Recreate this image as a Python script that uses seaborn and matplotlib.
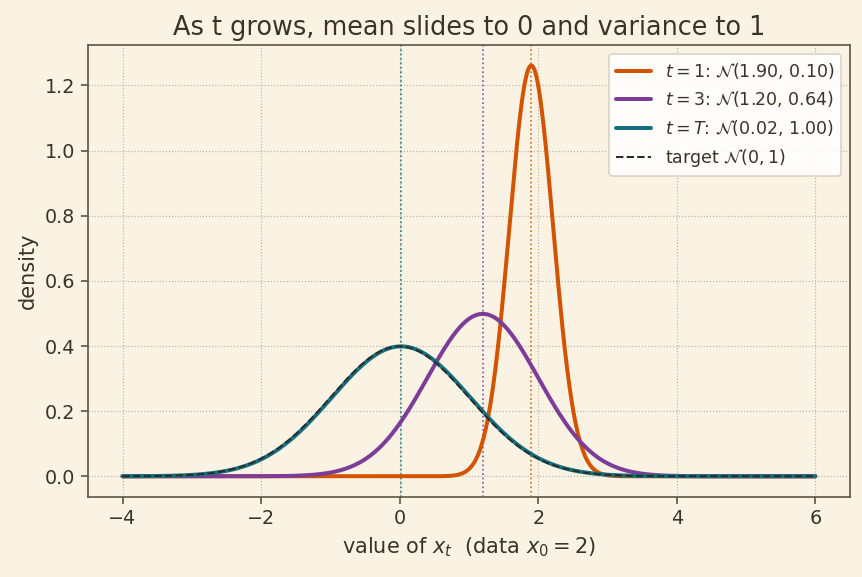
import matplotlib
matplotlib.use("Agg")
import matplotlib.pyplot as plt
import numpy as np
import pandas as pd
import seaborn as sns

###############################################################################
# Values: step labels, means and variances of q(x_t | x_0).

steps = ["1", "3", "T"]
means = [1.90, 1.20, 0.02]
variances = [0.10, 0.64, 1.00]
colors = ["#d35400", "#7d3c98", "#17707f"]
x_lo, x_hi = -4.0, 6.0

###############################################################################
# Density curves for each step plus the N(0, 1) target.

xs = np.linspace(x_lo, x_hi, 600)


def normal_pdf(x, mu, var):
    return np.exp(-(x - mu) ** 2 / (2 * var)) / np.sqrt(2 * np.pi * var)


df = pd.concat(
    [pd.DataFrame({"x": xs, "density": normal_pdf(xs, m, v),
                   "label": r"$t={}$: $\mathcal{{N}}$({:.2f}, {:.2f})".format(s, m, v)})
     for s, m, v in zip(steps, means, variances)],
    ignore_index=True)
target = pd.DataFrame({"x": xs, "density": normal_pdf(xs, 0.0, 1.0)})

###############################################################################
# Plot settings.

bg = "#faf3e3"
ink = "#3b3328"
sns.set_theme(style="ticks", rc={
    "figure.facecolor": bg, "axes.facecolor": bg, "savefig.facecolor": bg,
    "axes.edgecolor": "#5e5444", "axes.labelcolor": ink, "text.color": ink,
    "xtick.color": "#5e5444", "ytick.color": "#5e5444",
    "xtick.labelcolor": ink, "ytick.labelcolor": ink,
    "axes.linewidth": 1.0,
})
plt.rcParams["font.family"] = ["DejaVu Sans"]

fig, ax = plt.subplots(figsize=(862 / 120, 577 / 120), dpi=120)

for (lab, sub), c in zip(df.groupby("label", sort=False), colors):
    sns.lineplot(data=sub, x="x", y="density", ax=ax, color=c, linewidth=2.4,
                 label=lab)
sns.lineplot(data=target, x="x", y="density", ax=ax, color="#2b2b2b",
             linewidth=1.2, linestyle="--", label=r"target $\mathcal{N}(0,1)$")

for m, c in zip(means, colors):
    ax.axvline(m, color=c, linestyle=":", linewidth=1.0, alpha=0.9, zorder=1)

ax.grid(True, linestyle=":", color="#bdb4a4", linewidth=0.7)
ax.set_axisbelow(True)
ax.set_title("As t grows, mean slides to 0 and variance to 1", fontsize=15.3,
             color=ink)
ax.set_xlabel(r"value of $x_t$  (data $x_0=2$)", fontsize=12.5)
ax.set_ylabel("density", fontsize=12.5)
ax.tick_params(labelsize=11.5, length=4, width=1.0)
ax.margins(x=0.05, y=0.05)

leg = ax.legend(loc="upper right", fontsize=10.4, frameon=True,
                facecolor="white", edgecolor="#d6d0c4", framealpha=0.9)
for t in leg.get_texts():
    t.set_color(ink)

fig.subplots_adjust(left=0.102, right=0.986, top=0.922, bottom=0.139)
plt.savefig("out.png", dpi=120)
plt.close()
